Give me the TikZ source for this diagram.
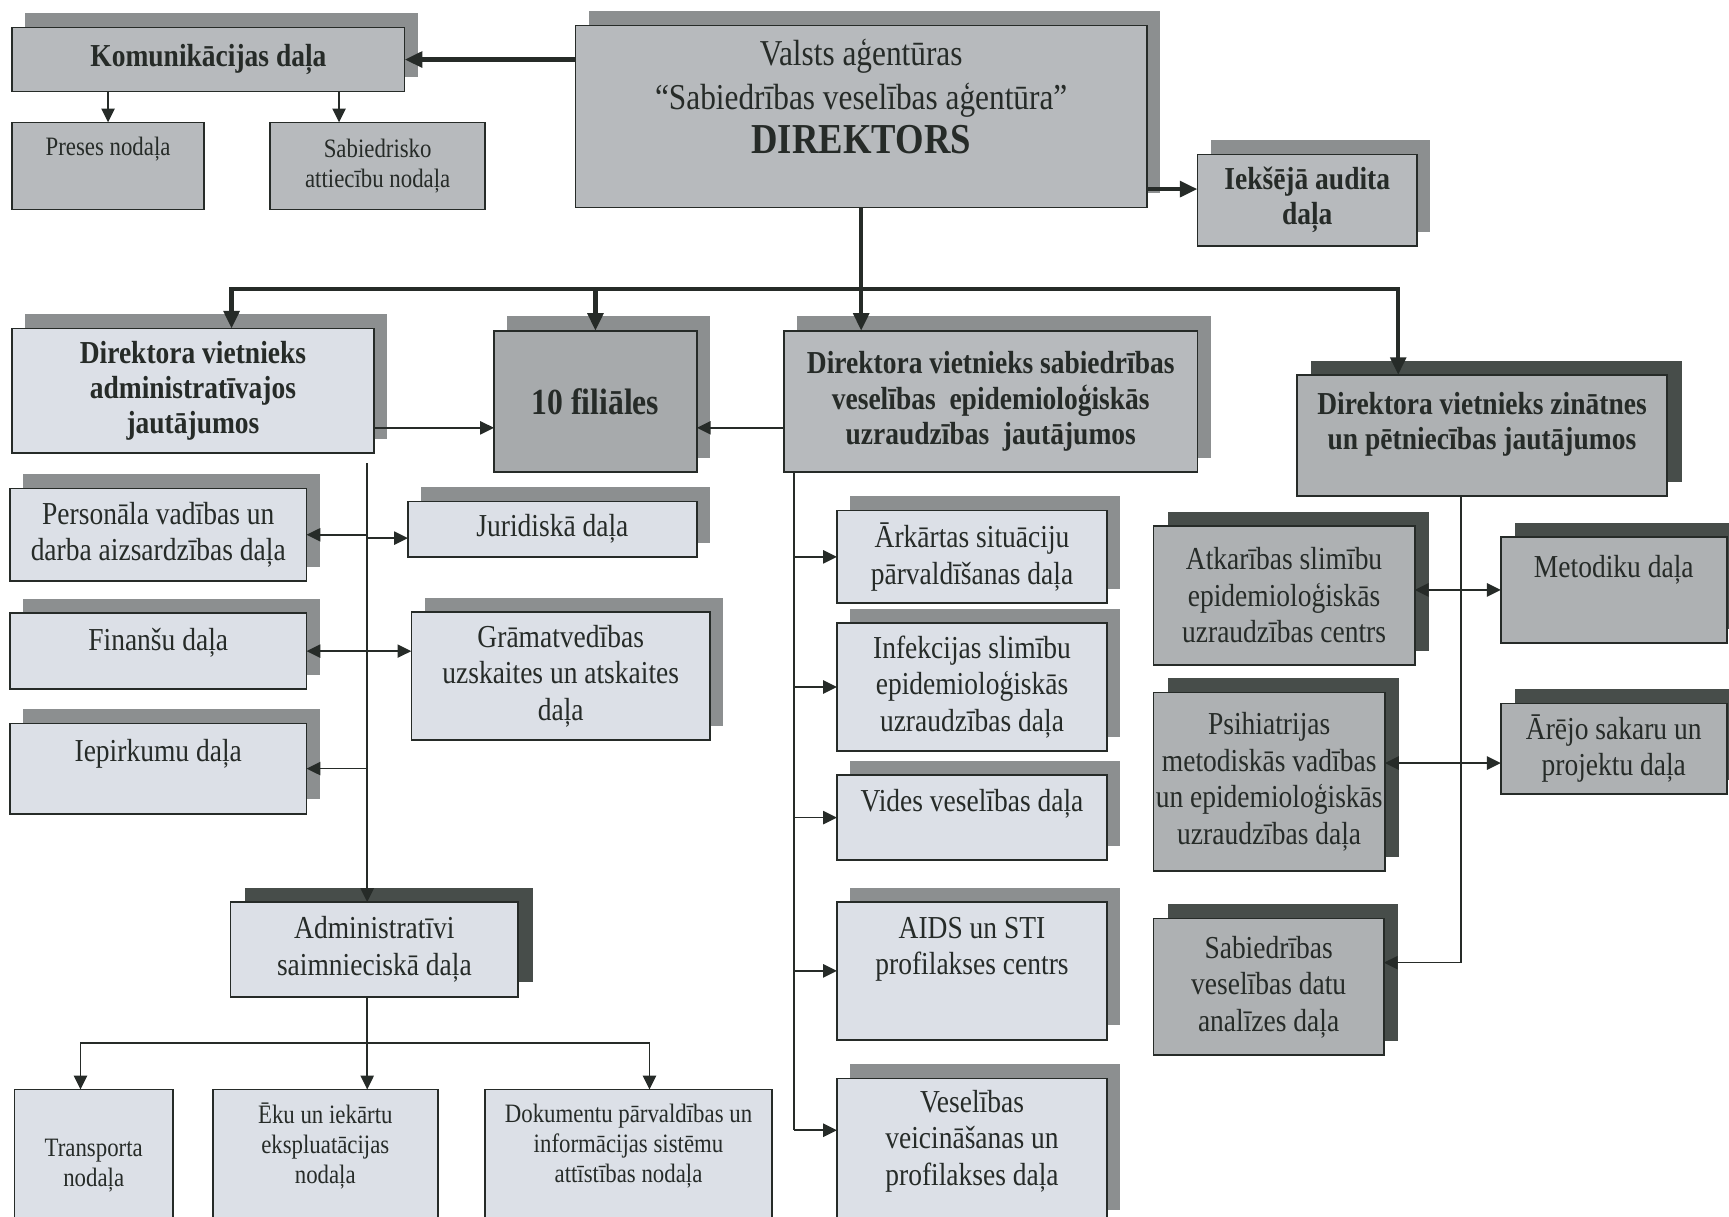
\documentclass[tikz,border=0pt]{standalone}
\usepackage{xcolor}
\usepackage{fontspec}
\setmainfont{Liberation Serif}[FakeStretch=0.86]
\usetikzlibrary{shadows,arrows.meta}

\definecolor{lightbox}{HTML}{DCE0E7}
\definecolor{midbox}{HTML}{B7BABD}
\definecolor{rightbox}{HTML}{AEB1B3}
\definecolor{darkbox}{HTML}{A7AAAC}
\definecolor{greyshade}{HTML}{8C8F90}
\definecolor{darkshade}{HTML}{474D4A}
\definecolor{inkline}{HTML}{262B28}

\newcommand{\boxfont}{\fontsize{16.5}{18.8}\selectfont}
\newcommand{\smallboxfont}{\fontsize{13.7}{15.4}\selectfont}
\newcommand{\boldboxfont}{\fontsize{16.5}{18.2}\selectfont\bfseries}

\begin{document}
\begin{tikzpicture}[x=0.2mm, y=-0.2mm,
    box/.style={draw=inkline, line width=0.8pt, inner sep=0pt, outer sep=0pt, align=center, text=inkline, font=\boxfont},
    wh/.style 2 args={minimum width=#1*0.2mm, minimum height=#2*0.2mm},
    light/.style={box, fill=lightbox},
    mid/.style={box, fill=midbox},
    rmid/.style={box, fill=rightbox},
    gshade/.style={general shadow={draw=none, fill=greyshade, shadow xshift=2.4mm, shadow yshift=2.6mm}},
    dshade/.style={general shadow={draw=none, fill=darkshade, shadow xshift=2.6mm, shadow yshift=2.6mm}},
    up/.style={text depth=#1},
    smalltip/.tip={Triangle[length=2.5mm, width=2.4mm]},
    bigtip/.tip={Triangle[length=3.2mm, width=2.8mm]},
    line/.style={draw=inkline, line width=0.85pt},
    arr/.style={line, -smalltip},
    bline/.style={draw=inkline, line width=2.3pt},
    barr/.style={bline, -bigtip}]

    \useasboundingbox (0,0) rectangle (1568,1103);

    \node[mid, gshade, font=\boldboxfont, wh={356}{58}] (kom) at (189,54) {Komunikācijas daļa};
    \node[mid, font=\smallboxfont, up=20pt, wh={174}{79}] (pre) at (98,150.5) {Preses nodaļa};
    \node[mid, font=\smallboxfont, wh={195}{79}] (sat) at (342.5,150.5) {Sabiedrisko\\attiecību nodaļa};
    \node[mid, gshade, font=\fontsize{18.8}{22.8}\selectfont, up=21pt, wh={518}{165}] (dir) at (781,105.5)
        {Valsts aģentūras\\“Sabiedrības veselības aģentūra”\\\fontsize{22}{22.8}\selectfont\bfseries DIREKTORS};
    \node[mid, gshade, font=\boldboxfont, wh={199}{83}] (aud) at (1185.5,181.5) {Iekšējā audita\\daļa};

    \node[light, gshade, font=\boldboxfont, wh={328}{113}] (adm) at (175,354.5) {Direktora vietnieks\\administratīvajos\\jautājumos};
    \node[box, fill=darkbox, gshade, font=\fontsize{19}{22}\selectfont\bfseries, wh={184}{128}] (fil) at (540,364) {10 filiāles};
    \node[mid, gshade, font=\boldboxfont, wh={375}{128}] (sab) at (898.5,364) {Direktora vietnieks sabiedrības\\veselības\ \ epidemioloģiskās\\uzraudzības\ \ jautājumos};
    \node[rmid, dshade, font=\boldboxfont, up=15.4pt, wh={336}{110}] (sci) at (1344,395) {Direktora vietnieks zinātnes\\un pētniecības jautājumos};

    \node[light, gshade, wh={269}{84}] (pers) at (143.5,485) {Personāla vadības un\\darba aizsardzības daļa};
    \node[light, gshade, up=12pt, wh={269}{69}] (fin) at (143.5,590.5) {Finanšu daļa};
    \node[light, gshade, up=19pt, wh={269}{82}] (iep) at (143.5,697) {Iepirkumu daļa};
    \node[light, gshade, wh={262}{50}] (jur) at (501,480) {Juridiskā daļa};
    \node[light, gshade, wh={271}{116}] (gram) at (508.5,613) {Grāmatvedības\\uzskaites un atskaites\\daļa};
    \node[light, dshade, wh={261}{86}] (asd) at (339.5,861) {Administratīvi\\saimnieciskā daļa};
    \node[light, font=\smallboxfont, wh={144}{138}] (tra) at (85,1057) {Transporta\\nodaļa};
    \node[light, font=\smallboxfont, up=14pt, wh={204}{122}] (eku) at (295,1049) {Ēku un iekārtu\\ekspluatācijas\\nodaļa};
    \node[light, font=\smallboxfont, up=14pt, wh={260}{122}] (dok) at (570,1049) {Dokumentu pārvaldības un\\informācijas sistēmu\\attīstības nodaļa};

    \node[light, gshade, wh={245}{84}] (ark) at (881.5,505) {Ārkārtas situāciju\\pārvaldīšanas daļa};
    \node[light, gshade, wh={245}{116}] (inf) at (881.5,623) {Infekcijas slimību\\epidemioloģiskās\\uzraudzības daļa};
    \node[light, gshade, up=17.7pt, wh={245}{77}] (vid) at (881.5,741.5) {Vides veselības daļa};
    \node[light, gshade, up=25.7pt, wh={245}{125}] (aids) at (881.5,880.5) {AIDS un STI\\profilakses centrs};
    \node[light, gshade, up=14pt, wh={245}{132}] (ves) at (881.5,1044) {Veselības\\veicināšanas un\\profilakses daļa};

    \node[rmid, dshade, wh={237}{126}] (atk) at (1164.5,540) {Atkarības slimību\\epidemioloģiskās\\uzraudzības centrs};
    \node[rmid, dshade, up=24.5pt, wh={205}{96}] (met) at (1463.5,535) {Metodiku daļa};
    \node[rmid, dshade, wh={210}{162}] (psi) at (1151,709) {Psihiatrijas\\metodiskās vadības\\un epidemioloģiskās\\uzraudzības daļa};
    \node[rmid, dshade, wh={205}{82}] (are) at (1463.5,679) {Ārējo sakaru un\\projektu daļa};
    \node[rmid, dshade, wh={209}{124}] (sva) at (1150.5,895) {Sabiedrības\\veselības datu\\analīzes daļa};

    \draw[barr] (dir.west |- kom.east) -- (kom.east);
    \coordinate (satin) at ([xshift=-7mm]sat.north);
    \draw[arr] (kom.south -| pre.north) -- (pre.north);
    \draw[arr] (kom.south -| satin) -- (satin);
    \coordinate (audin) at ([yshift=2mm]aud.west);
    \draw[barr] (audin -| dir.east) -- (audin);

    \coordinate (busl) at (210,262);
    \coordinate (busr) at (1268,262);
    \draw[barr] (dir.south) -- (dir.south |- sab.north);
    \draw[bline, bigtip-bigtip] (busl |- adm.north) -- (busl) -- (busr) -- (busr |- sci.north);
    \draw[barr] (fil.north |- busl) -- (fil.north);

    \coordinate (filw) at ([yshift=-4.8mm]fil.west);
    \coordinate (file) at ([yshift=-4.8mm]fil.east);
    \draw[arr] (filw -| adm.east) -- (filw);
    \draw[arr] (file -| sab.west) -- (file);

    \coordinate (admtop) at (333,420);
    \coordinate (jurin) at ([yshift=-1.6mm]jur.west);
    \draw[arr] (admtop) -- (admtop |- asd.north);
    \draw[arr] (admtop |- pers.east) -- (pers.east);
    \draw[arr] (admtop |- jurin) -- (jurin);
    \draw[arr] (admtop |- fin.east) -- (fin.east);
    \draw[arr] (admtop |- fin.east) -- (fin.east -| gram.west);
    \draw[arr] (admtop |- iep.east) -- (iep.east);

    \coordinate (bl) at (73,946);
    \coordinate (br) at (589,946);
    \draw[line] (admtop |- asd.south) -- (admtop |- bl);
    \draw[line, smalltip-smalltip] (bl |- tra.north) -- (bl) -- (br) -- (br |- dok.north);
    \draw[arr] (admtop |- bl) -- (admtop |- eku.north);

    \coordinate (sabl) at ([xshift=1.8mm]sab.south west);
    \coordinate (vesin) at ([yshift=3.8mm]ves.west);
    \draw[line] (sabl) -- (sabl |- vesin);
    \draw[arr] (sabl |- ark.west) -- (ark.west);
    \draw[arr] (sabl |- inf.west) -- (inf.west);
    \draw[arr] (sabl |- vid.west) -- (vid.west);
    \draw[arr] (sabl |- aids.west) -- (aids.west);
    \draw[arr] (sabl |- vesin) -- (vesin);

    \coordinate (scil) at ([xshift=-3.8mm]sci.south);
    \coordinate (svain) at ([yshift=4.4mm]sva.east);
    \coordinate (prow) at ([yshift=-2.6mm]are.west);
    \draw[arr] (scil) -- (scil |- svain) -- (svain);
    \draw[arr] (scil |- met.west) -- (met.west -| atk.east);
    \draw[arr] (scil |- met.west) -- (met.west);
    \draw[arr] (scil |- prow) -- (prow -| psi.east);
    \draw[arr] (scil |- prow) -- (prow);
\end{tikzpicture}
\end{document}
